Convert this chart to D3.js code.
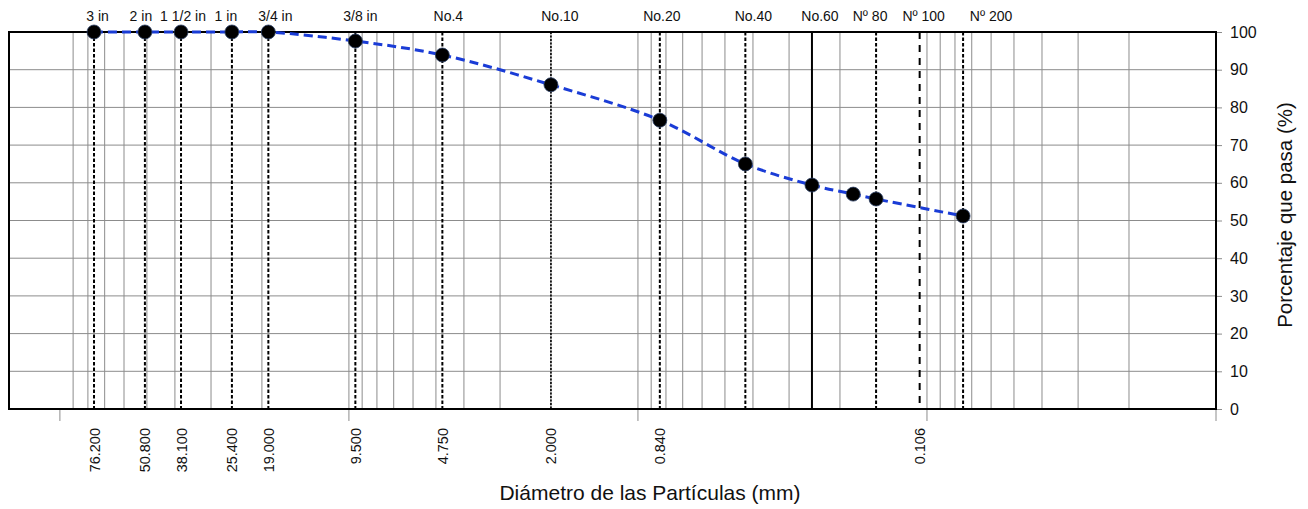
<!DOCTYPE html>
<html>
<head>
<meta charset="utf-8">
<script src="https://cdn.jsdelivr.net/npm/d3@7"></script>
<style>
  body { margin: 0; background: #fff; }
  svg text { font-family: "Liberation Sans", Arial, sans-serif; fill: #111; }
</style>
</head>
<body>
<div id="chart"></div>
<script>
// sieve results (mm, % passing)
const sieveSizes = [76.2, 50.8, 38.1, 25.4, 19.0, 9.5, 4.75, 2.0, 0.84, 0.425, 0.25, 0.18, 0.15, 0.075];
const percentPassing = [100, 100, 100, 100, 100, 97.6, 93.9, 86.0, 76.6, 65.0, 59.4, 57.0, 55.7, 51.2];

// reference sieve lines + names along the top
const sieveLineSizes = [76.2, 50.8, 38.1, 25.4, 19.0, 9.5, 4.75, 2.0, 0.84, 0.425, 0.25, 0.15, 0.106, 0.075];
const sieveNames = ['3 in', '2 in', '1 1/2 in', '1 in', '3/4 in', '3/8 in', 'No.4', 'No.10', 'No.20', 'No.40', 'No.60', 'Nº 80', 'Nº 100', 'Nº 200'];

// diameters printed under the axis
const diameterTicks = [76.2, 50.8, 38.1, 25.4, 19.0, 9.5, 4.75, 2.0, 0.84, 0.106];
const diameterLabels = ['76.200', '50.800', '38.100', '25.400', '19.000', '9.500', '4.750', '2.000', '0.840', '0.106'];

const yTicks = [0, 10, 20, 30, 40, 50, 60, 70, 80, 90, 100];
const decades = [100, 10, 1, 0.1, 0.01];

const width = 1308, height = 509;
const plotL = 9, plotR = 1216, plotT = 32, plotB = 409;

const svg = d3.select('#chart').append('svg')
  .attr('width', width)
  .attr('height', height);

const x = d3.scaleLog().domain([150, 0.01]).range([plotL, plotR]);
const y = d3.scaleLinear().domain([0, 100]).range([plotB, plotT]);

// log grid 1..9 per decade
const gridVals = [];
decades.forEach(d => {
  for (let k = 1; k <= 9; k++) {
    const v = k * d / 10;
    if (v > 0.01 && v < 150) gridVals.push(v);
  }
});

const grid = svg.append('g');
grid.selectAll('line.v')
  .data(gridVals)
  .enter().append('line')
  .attr('class', 'v')
  .attr('x1', d => x(d)).attr('x2', d => x(d))
  .attr('y1', plotT).attr('y2', plotB)
  .attr('stroke', '#8c8c8c')
  .attr('stroke-width', 1);

grid.selectAll('line.h')
  .data(yTicks)
  .enter().append('line')
  .attr('class', 'h')
  .attr('x1', plotL).attr('x2', plotR)
  .attr('y1', d => y(d)).attr('y2', d => y(d))
  .attr('stroke', '#8c8c8c')
  .attr('stroke-width', 1);

// decade ticks below the axis
svg.append('g').selectAll('line')
  .data(decades)
  .enter().append('line')
  .attr('x1', d => x(d)).attr('x2', d => x(d))
  .attr('y1', plotB).attr('y2', plotB + 12)
  .attr('stroke', '#8c8c8c');

// right y axis
const yAxis = svg.append('g')
  .attr('transform', `translate(${plotR},0)`)
  .call(d3.axisRight(y).tickValues(yTicks).tickSize(6).tickPadding(8));
yAxis.select('.domain').remove();
yAxis.selectAll('.tick line').attr('stroke', '#8c8c8c');
yAxis.selectAll('.tick text')
  .style('font-size', '16px')
  .attr('fill', '#111')
  .attr('font-family', '"Liberation Sans", Arial, sans-serif');

// frame
svg.append('rect')
  .attr('x', plotL).attr('y', plotT)
  .attr('width', plotR - plotL).attr('height', plotB - plotT)
  .attr('fill', 'none')
  .attr('stroke', '#000')
  .attr('stroke-width', 2);

// sieve reference lines
const dashFor = name => {
  if (name === 'No.10') return '2,1.5';
  if (name === 'No.60') return null;
  if (name === 'Nº 100') return '7,6';
  return '3.5,2';
};
const widthFor = name => (name === 'No.10' ? 1.6 : 2);
const labelDx = [3.5, -4, 2, -6, 7, 5, 6, 9, 2, 8, 8, -6, 4, 28];

svg.append('g').selectAll('line')
  .data(sieveLineSizes)
  .enter().append('line')
  .attr('x1', d => x(d)).attr('x2', d => x(d))
  .attr('y1', plotT).attr('y2', plotB)
  .attr('stroke', '#000')
  .attr('stroke-width', (d, i) => widthFor(sieveNames[i]))
  .attr('stroke-dasharray', (d, i) => dashFor(sieveNames[i]));

svg.append('g').selectAll('text')
  .data(sieveLineSizes)
  .enter().append('text')
  .attr('x', (d, i) => x(d) + labelDx[i])
  .attr('y', 21)
  .attr('text-anchor', 'middle')
  .style('font-size', '14px')
  .text((d, i) => sieveNames[i]);

// diameter labels, rotated
svg.append('g').selectAll('text')
  .data(diameterTicks)
  .enter().append('text')
  .attr('transform', d => `translate(${x(d) + 5.5},428) rotate(-90)`)
  .attr('text-anchor', 'end')
  .style('font-size', '14.5px')
  .text((d, i) => diameterLabels[i]);

// gradation curve
const points = sieveSizes.map((s, i) => [x(s), y(percentPassing[i])]);
svg.append('path')
  .attr('d', d3.line().curve(d3.curveCatmullRom.alpha(0.5))(points))
  .attr('fill', 'none')
  .attr('stroke', '#1a3cd6')
  .attr('stroke-width', 3)
  .attr('stroke-dasharray', '9,5');

svg.append('g').selectAll('circle')
  .data(points)
  .enter().append('circle')
  .attr('cx', d => d[0])
  .attr('cy', d => d[1])
  .attr('r', 7)
  .attr('fill', '#000')
  .attr('stroke', '#2b3f66')
  .attr('stroke-width', 0.8);

// titles
svg.append('text')
  .attr('x', 650).attr('y', 500)
  .attr('text-anchor', 'middle')
  .style('font-size', '21px')
  .text('Diámetro de las Partículas (mm)');

svg.append('text')
  .attr('transform', 'translate(1292,215) rotate(-90)')
  .attr('text-anchor', 'middle')
  .style('font-size', '20.5px')
  .text('Porcentaje que pasa (%)');
</script>
</body>
</html>
